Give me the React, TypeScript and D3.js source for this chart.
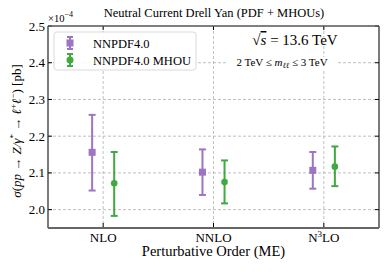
import * as d3 from "d3";
import { useEffect, useRef } from "react";

const orders = ["NLO", "NNLO", "N3LO"];
const pdfCentral = [2.156, 2.102, 2.107];
const pdfLow = [2.052, 2.04, 2.057];
const pdfHigh = [2.258, 2.164, 2.157];
const mhouCentral = [2.072, 2.075, 2.117];
const mhouLow = [1.983, 2.017, 2.064];
const mhouHigh = [2.157, 2.134, 2.172];
const yTicks = [2.0, 2.1, 2.2, 2.3, 2.4, 2.5];

const series = [
  { name: "NNPDF4.0", color: "#9467bd", shape: "square", offset: -0.1, c: pdfCentral, lo: pdfLow, hi: pdfHigh },
  { name: "NNPDF4.0 MHOU", color: "#2ca02c", shape: "circle", offset: 0.1, c: mhouCentral, lo: mhouLow, hi: mhouHigh },
];

const App = () => {
  const width = 390;
  const height = 273;
  const margin = { top: 26, right: 11, bottom: 45, left: 48 };
  const ref = useRef(null);

  useEffect(() => {
    const svg = d3.select(ref.current);
    svg.selectAll("*").remove();
    const font = "'Liberation Serif', serif";
    const pw = width - margin.left - margin.right;
    const ph = height - margin.top - margin.bottom;

    const x = d3.scaleLinear([-0.5, 2.5], [0, pw]);
    const y = d3.scaleLinear([1.95, 2.5], [ph, 0]);

    svg
      .append("text")
      .attr("x", 214)
      .attr("y", 17)
      .attr("text-anchor", "middle")
      .attr("font-family", font)
      .attr("font-size", 12.5)
      .text("Neutral Current Drell Yan (PDF + MHOUs)");

    const sci = svg
      .append("text")
      .attr("x", 48)
      .attr("y", 22)
      .attr("font-family", font)
      .attr("font-size", 10.5)
      .text("×10");
    sci.append("tspan").attr("dy", -5).attr("font-size", 8).text("−4");

    const g = svg.append("g").attr("transform", `translate(${margin.left},${margin.top})`);

    // grid
    g.append("g")
      .selectAll("line")
      .data(yTicks.slice(0, 5))
      .join("line")
      .attr("x1", 0)
      .attr("x2", pw)
      .attr("y1", (d) => y(d))
      .attr("y2", (d) => y(d))
      .attr("stroke", "#b0b0b0")
      .attr("stroke-width", 0.8)
      .attr("stroke-dasharray", "3,2");
    g.append("g")
      .selectAll("line")
      .data(orders)
      .join("line")
      .attr("x1", (d, i) => x(i))
      .attr("x2", (d, i) => x(i))
      .attr("y1", 0)
      .attr("y2", ph)
      .attr("stroke", "#b0b0b0")
      .attr("stroke-width", 0.8)
      .attr("stroke-dasharray", "3,2");

    // y ticks (inward, both sides)
    const yt = g.append("g");
    yTicks.forEach((t) => {
      yt.append("line").attr("x1", 0).attr("x2", 4).attr("y1", y(t)).attr("y2", y(t)).attr("stroke", "#000");
      yt.append("line").attr("x1", pw - 4).attr("x2", pw).attr("y1", y(t)).attr("y2", y(t)).attr("stroke", "#000");
      yt.append("text")
        .attr("x", -3)
        .attr("y", y(t) + 4.5)
        .attr("text-anchor", "end")
        .attr("font-family", font)
        .attr("font-size", 13)
        .text(d3.format(".1f")(t));
    });

    // x ticks
    orders.forEach((o, i) => {
      g.append("line").attr("x1", x(i)).attr("x2", x(i)).attr("y1", ph).attr("y2", ph - 5).attr("stroke", "#000");
      g.append("line").attr("x1", x(i)).attr("x2", x(i)).attr("y1", 0).attr("y2", 4).attr("stroke", "#000");
      const t = g
        .append("text")
        .attr("x", x(i))
        .attr("y", ph + 13.5)
        .attr("text-anchor", "middle")
        .attr("font-family", font)
        .attr("font-size", 13);
      if (o === "N3LO") {
        t.append("tspan").text("N");
        t.append("tspan").attr("dy", -5).attr("font-size", 9).text("3");
        t.append("tspan").attr("dy", 5).text("LO");
      } else {
        t.text(o);
      }
    });

    // spines
    g.append("line").attr("x1", 0).attr("x2", 0).attr("y1", 0).attr("y2", ph).attr("stroke", "#222").attr("stroke-width", 1.2);
    g.append("line").attr("x1", pw).attr("x2", pw).attr("y1", 0).attr("y2", ph).attr("stroke", "#222").attr("stroke-width", 1.2);
    g.append("line").attr("x1", 0).attr("x2", pw).attr("y1", 0).attr("y2", 0).attr("stroke", "#555").attr("stroke-width", 1.5);
    g.append("line").attr("x1", 0).attr("x2", pw).attr("y1", ph).attr("y2", ph).attr("stroke", "#666").attr("stroke-width", 2);

    // annotation
    g.append("rect").attr("x", 180).attr("y", 31).attr("width", 110).attr("height", 13).attr("fill", "white");
    const s1 = g
      .append("text")
      .attr("x", 247)
      .attr("y", 19)
      .attr("text-anchor", "middle")
      .attr("font-family", font)
      .attr("font-size", 15);
    s1.append("tspan").text("√");
    s1.append("tspan").attr("font-style", "italic").attr("text-decoration", "overline").text("s");
    s1.append("tspan").text(" = 13.6 TeV");
    const s2 = g
      .append("text")
      .attr("x", 234)
      .attr("y", 40)
      .attr("text-anchor", "middle")
      .attr("font-family", font)
      .attr("font-size", 11);
    s2.append("tspan").text("2 TeV ≤ ");
    s2.append("tspan").attr("font-style", "italic").text("m");
    s2.append("tspan").attr("font-style", "italic").attr("dy", 2).attr("font-size", 8).text("ℓℓ");
    s2.append("tspan").attr("dy", -2).text(" ≤ 3 TeV");

    // error bars
    const drawMarker = (sel, shape, color, cx, cy, size) => {
      if (shape === "square") {
        sel.append("rect").attr("x", cx - size).attr("y", cy - size).attr("width", size * 2).attr("height", size * 2).attr("fill", color);
      } else {
        sel.append("circle").attr("cx", cx).attr("cy", cy).attr("r", size).attr("fill", color);
      }
    };
    series.forEach((s) => {
      const sg = g.append("g").attr("opacity", 0.9);
      orders.forEach((o, i) => {
        const cx = x(i + s.offset);
        sg.append("line").attr("x1", cx).attr("x2", cx).attr("y1", y(s.lo[i])).attr("y2", y(s.hi[i])).attr("stroke", s.color).attr("stroke-width", 2);
        [s.lo[i], s.hi[i]].forEach((v) => {
          sg.append("line").attr("x1", cx - 3.5).attr("x2", cx + 3.5).attr("y1", y(v)).attr("y2", y(v)).attr("stroke", s.color).attr("stroke-width", 2);
        });
        drawMarker(sg, s.shape, s.color, cx, y(s.c[i]), s.shape === "square" ? 3.5 : 3.3);
      });
    });

    // legend
    const lg = g.append("g").attr("transform", "translate(6,6)");
    lg.append("rect").attr("width", 142).attr("height", 38).attr("rx", 3).attr("fill", "white").attr("fill-opacity", 0.85).attr("stroke", "#d0d0d0").attr("stroke-width", 0.8);
    series.forEach((s, i) => {
      const cy = 11 + i * 17;
      const cx = 16;
      const lgi = lg.append("g").attr("opacity", 0.9);
      lgi.append("line").attr("x1", cx).attr("x2", cx).attr("y1", cy - 6).attr("y2", cy + 6).attr("stroke", s.color).attr("stroke-width", 2);
      [-6, 6].forEach((d) => {
        lgi.append("line").attr("x1", cx - 3).attr("x2", cx + 3).attr("y1", cy + d).attr("y2", cy + d).attr("stroke", s.color).attr("stroke-width", 2);
      });
      drawMarker(lgi, s.shape, s.color, cx, cy, 3.5);
      lg.append("text")
        .attr("x", 39)
        .attr("y", cy + 4.5)
        .attr("font-family", font)
        .attr("font-size", 12.5)
        .text(s.name);
    });

    // axis labels
    svg
      .append("text")
      .attr("x", margin.left + pw / 2)
      .attr("y", 256)
      .attr("text-anchor", "middle")
      .attr("font-family", font)
      .attr("font-size", 14.5)
      .text("Perturbative Order (ME)");

    const yl = svg
      .append("text")
      .attr("transform", `translate(21,${margin.top + ph / 2 + 4}) rotate(-90)`)
      .attr("text-anchor", "middle")
      .attr("font-family", font)
      .attr("font-size", 13);
    yl.append("tspan").attr("font-style", "italic").text("σ");
    yl.append("tspan").text("(");
    yl.append("tspan").attr("font-style", "italic").text("pp");
    yl.append("tspan").text(" → ");
    yl.append("tspan").attr("font-style", "italic").text("Z/γ");
    yl.append("tspan").attr("dy", -5).attr("font-size", 9).text("*");
    yl.append("tspan").attr("dy", 5).text(" → ");
    yl.append("tspan").attr("font-style", "italic").text("ℓ");
    yl.append("tspan").attr("dy", -5).attr("font-size", 9).text("+");
    yl.append("tspan").attr("dy", 5).attr("font-style", "italic").text("ℓ");
    yl.append("tspan").attr("dy", -5).attr("font-size", 9).text("−");
    yl.append("tspan").attr("dy", 5).text(") [pb]");
  }, []);

  return (
    <svg
      width={width}
      height={height}
      ref={ref}
      style={{ position: "absolute", left: 0, top: 0, background: "white" }}
    ></svg>
  );
};

export default App;
